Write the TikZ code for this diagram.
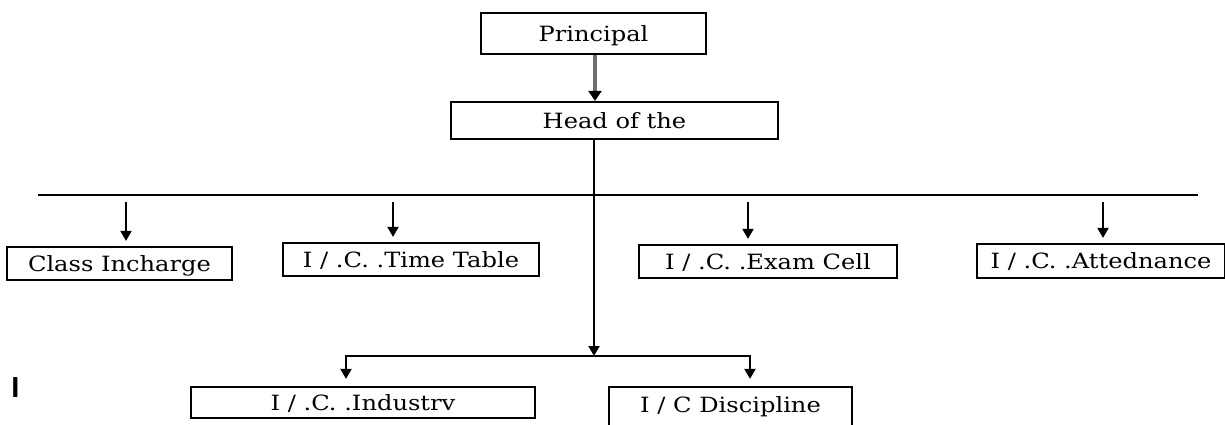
\documentclass[tikz,border=0pt]{standalone}
\usepackage{fontspec}
\setmainfont{DejaVu Serif}[FakeStretch=1.15]
\newfontfamily\strayfont{Liberation Sans}
\usepackage{tikz}
\usetikzlibrary{arrows.meta}
\definecolor{ChartGray}{HTML}{6E6E6E}

\begin{document}
\begin{tikzpicture}[
  x=1pt, y=-1pt,
  box/.style={draw, line width=2.2pt, align=center, inner sep=0pt, minimum height=33pt, text height=15pt, text depth=0pt, font=\fontsize{21}{24}\selectfont},
  arrow/.style={-{Triangle[length=10pt, width=11pt]}, line width=2pt},
  link/.style={line width=2pt}
]
\clip (0,0) rectangle (1225,424);
% top of the chart
\node[box, minimum width=225pt, minimum height=41pt] (principal) at (593.5,33.5) {Principal};
\node[box, minimum width=327pt, minimum height=37pt] (head) at (614.5,120.5) {Head of the};
\draw[arrow, line width=4pt, draw=ChartGray, -{Triangle[length=10pt, width=13pt, color=black]}] (principal.south -| 595,0) -- (head.north -| 595,0);

% first row
\node[box, minimum width=225pt] (classinch) at (119.5,263.5) {Class Incharge};
\node[box, minimum width=256pt] (timetable) at (411,259.5) {I / .C. .Time Table};
\node[box, minimum width=258pt] (examcell) at (768,261.5) {I / .C. .Exam Cell};
\node[box, minimum width=248pt, minimum height=34pt] (attendance) at (1101,261) {I / .C. .Attednance};

\coordinate (busL) at (38,195);
\coordinate (busR) at (1198,195);
\draw[link] (busL) -- (busR);
\foreach \x/\name in {126/classinch, 393/timetable, 748/examcell, 1103/attendance}
  \draw[arrow, shorten >=5pt] (\x,202) -- (\x,0 |- \name.north);

% second row
\node[box, minimum width=344pt, minimum height=31pt] (industry) at (363,402.5) {I / .C. .Industrv};
\node[box, minimum width=243pt, minimum height=45pt, text depth=9pt] (discipline) at (730.5,409.5) {I / C Discipline};

\coordinate (hub) at (594,356);
\draw[arrow] (head.south -| hub) -- (hub);
\draw[arrow, shorten >=7pt] (hub) -| (346,0 |- industry.north);
\draw[arrow, shorten >=7pt] (hub) -| (750,0 |- discipline.north);

\node[font=\strayfont\bfseries\fontsize{29}{29}\selectfont, inner sep=0pt] (stray) at (15.5,387.5) {I};
\end{tikzpicture}
\end{document}
